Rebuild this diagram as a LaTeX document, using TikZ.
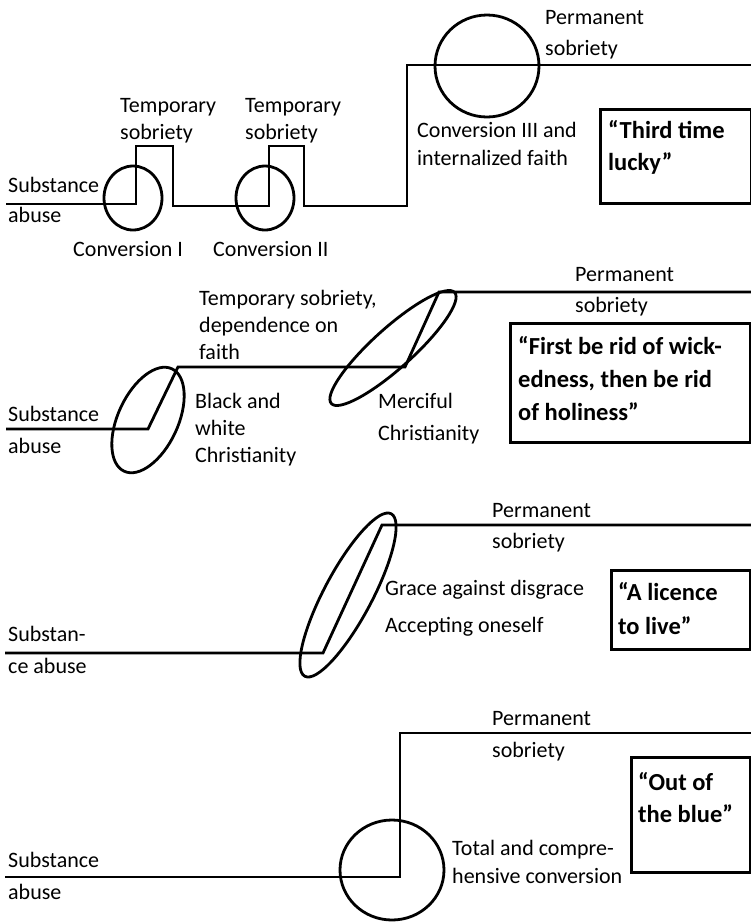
\documentclass[tikz,border=0pt]{standalone}
\usepackage{fontspec}
\setmainfont{Carlito}
\usetikzlibrary{shapes.geometric}
\begin{document}
\begin{tikzpicture}[x=1pt,y=-1pt,
  line/.style={line width=2.8pt, line join=miter},
  ring/.style={draw, ellipse, line width=2.8pt, inner sep=0pt},
  lbl/.style={anchor=base west, inner sep=0pt, align=left, font=\fontsize{22}{#1}\selectfont},
  lbl/.default=28,
  qbox/.style={draw, rectangle, line width=3pt, anchor=north west, inner sep=0pt},
  qtxt/.style={anchor=base west, inner sep=0pt, align=left, font=\fontsize{24.5}{#1}\selectfont\bfseries},
  qtxt/.default=32
]
\useasboundingbox (0,0) rectangle (751,922);

% ---------- Panel 1 ----------
\coordinate (a0) at (6,204);
\coordinate (a1) at (136,204);
\coordinate (a2) at (136,146);
\coordinate (a3) at (173,146);
\coordinate (a4) at (173,206);
\coordinate (a5) at (269,206);
\coordinate (a6) at (269,146);
\coordinate (a7) at (304,146);
\coordinate (a8) at (304,206);
\coordinate (a9) at (407,206);
\coordinate (a10) at (407,65);
\coordinate (a11) at (751,65);
\draw[line] (a0) -- (a1) -- (a2) -- (a3) -- (a4) -- (a5) -- (a6) -- (a7) -- (a8) -- (a9) -- (a10) -- (a11);
\node[ring, minimum width=58pt, minimum height=64pt] (r1) at (133,198) {};
\node[ring, minimum width=58pt, minimum height=64pt] (r2) at (265,198) {};
\node[ring, minimum width=104pt, minimum height=102pt] (r3) at (487,66) {};

\node[lbl=30] (sa1) at (8,222) {Substance\\abuse};
\node[lbl] (cv1) at (73,256) {Conversion I};
\node[lbl] (cv2) at (213,256) {Conversion II};
\node[lbl=27] (ts1) at (120,139) {Temporary\\sobriety};
\node[lbl=27] (ts2) at (245,139) {Temporary\\sobriety};
\node[lbl=31] (ps1) at (545,55) {Permanent\\sobriety};
\node[lbl=28] (cv3) at (417,165) {Conversion III and\\internalized faith};
\node[qbox, minimum width=151pt, minimum height=94pt] (b1) at (599,108) {};
\node[qtxt=32] (q1) at (608,170) {“Third time\\lucky”};

% ---------- Panel 2 ----------
\coordinate (b0) at (6,429);
\coordinate (bb1) at (148,429);
\coordinate (bb2) at (178,367);
\coordinate (bb3) at (405,367);
\coordinate (bb4) at (439,292);
\coordinate (bb5) at (751,292);
\draw[line] (b0) -- (bb1) -- (bb2) -- (bb3) -- (bb4) -- (bb5);
\node[ring, minimum width=113pt, minimum height=60pt, rotate=65] (e1) at (148,420) {};
\node[ring, minimum width=166pt, minimum height=40pt, rotate=42] (e2) at (393,348) {};

\node[lbl=27] (ts3) at (199,359) {Temporary sobriety,\\dependence on\\faith};
\node[lbl=27] (bw) at (195,462) {Black and\\white\\Christianity};
\node[lbl=32] (sa2) at (8,453) {Substance\\abuse};
\node[lbl=32] (mc) at (378,440) {Merciful\\Christianity};
\node[lbl=31] (ps2) at (575,312) {Permanent\\sobriety};
\node[qbox, minimum width=240pt, minimum height=119pt] (b2) at (509,322) {};
\node[qtxt=33] (q2) at (518,420) {“First be rid of wick-\\edness, then be rid\\of holiness”};

% ---------- Panel 3 ----------
\coordinate (c0) at (5,653);
\coordinate (c1) at (323,653);
\coordinate (c2) at (382,525);
\coordinate (c3) at (751,525);
\draw[line] (c0) -- (c1) -- (c2) -- (c3);
\node[ring, minimum width=184pt, minimum height=48pt, rotate=62] (e3) at (348,595) {};

\node[lbl=31] (ps3) at (492,548) {Permanent\\sobriety};
\node[lbl=37] (gr) at (385,632) {Grace against disgrace\\Accepting oneself};
\node[lbl=32] (sa3) at (8,673) {Substan-\\ce abuse};
\node[qbox, minimum width=139pt, minimum height=79pt] (b3) at (610,569) {};
\node[qtxt=34] (q3) at (618,634) {“A licence\\to live”};

% ---------- Panel 4 ----------
\coordinate (d0) at (5,877);
\coordinate (d1) at (400,877);
\coordinate (d2) at (400,733);
\coordinate (d3) at (751,733);
\draw[line] (d0) -- (d1) -- (d2) -- (d3);
\node[ring, minimum width=104pt, minimum height=100pt] (r4) at (392,870) {};

\node[lbl=32] (ps4) at (492,757) {Permanent\\sobriety};
\node[lbl=28] (tc) at (452,883) {Total and compre-\\hensive conversion};
\node[lbl=32] (sa4) at (8,899) {Substance\\abuse};
\node[qbox, minimum width=119pt, minimum height=115pt] (b4) at (630,756) {};
\node[qtxt=32] (q4) at (638,822) {“Out of\\the blue”};
\end{tikzpicture}
\end{document}
